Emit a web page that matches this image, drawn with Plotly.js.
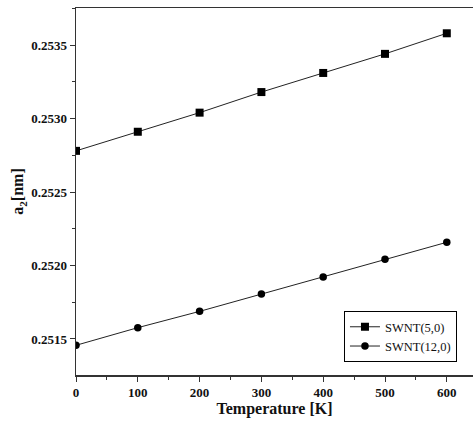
<!DOCTYPE html>
<html>
<head>
<meta charset="utf-8">
<script src="https://cdn.plot.ly/plotly-3.0.1.min.js"></script>
<style>html,body{margin:0;padding:0;background:#fff;}#chart{width:473px;height:421px;}</style>
</head>
<body>
<div id="chart"></div>
<script>
const temperature = [0, 100, 200, 300, 400, 500, 600];
const swnt50 = [0.25278, 0.25291, 0.25304, 0.25318, 0.25331, 0.25344, 0.25358];
const swnt120 = [0.251457, 0.251577, 0.251688, 0.251806, 0.251922, 0.252042, 0.252158];
const seriesNames = ["SWNT(5,0)", "SWNT(12,0)"];
const xTicks = [0, 100, 200, 300, 400, 500, 600];
const yTicks = [0.2515, 0.2520, 0.2525, 0.2530, 0.2535];

const FAM = '"Times New Roman", "Liberation Serif", "DejaVu Serif", serif';
const lineStyle = {color: '#222', width: 1};
const traces = [
  {x: temperature, y: swnt50, name: seriesNames[0], type: 'scatter', mode: 'lines+markers',
   line: lineStyle, marker: {symbol: 'square', size: 8, color: '#000'}},
  {x: temperature, y: swnt120, name: seriesNames[1], type: 'scatter', mode: 'lines+markers',
   line: lineStyle, marker: {symbol: 'circle', size: 7.5, color: '#000'}}
];

const tickFont = {family: FAM, size: 13, color: '#111', weight: 'bold'};
const layout = {
  width: 473, height: 421,
  margin: {l: 76, r: 0, t: 8, b: 46},
  paper_bgcolor: '#fff', plot_bgcolor: '#fff',
  font: {family: FAM},
  showlegend: true,
  legend: {x: 0.675, y: 0.174, xanchor: 'left', yanchor: 'top',
    bordercolor: '#000', borderwidth: 1, bgcolor: '#fff',
    font: {family: FAM, size: 12.5, color: '#111'},
    tracegroupgap: 0, itemwidth: 30},
  xaxis: {
    range: [0, 642.4], tickvals: xTicks, ticktext: xTicks.map(String),
    showgrid: false, zeroline: false, showline: true, linecolor: '#333', linewidth: 1.5,
    mirror: true, ticks: 'outside', ticklen: 5, tickwidth: 1, tickcolor: '#333',
    minor: {dtick: 50, tick0: 0, ticks: 'outside', ticklen: 3, tickcolor: '#333', showgrid: false},
    tickfont: tickFont,
    title: {text: 'Temperature [K]', standoff: 3,
      font: {family: FAM, size: 16, color: '#111', weight: 'bold'}}
  },
  yaxis: {
    range: [0.251255, 0.253752], tickvals: yTicks, ticktext: yTicks.map(v => v.toFixed(4)),
    showgrid: false, zeroline: false, showline: true, linecolor: '#333', linewidth: 1.5,
    mirror: false, ticks: 'outside', ticklen: 5, tickwidth: 1, tickcolor: '#333',
    minor: {dtick: 0.00025, tick0: 0.2515, ticks: 'outside', ticklen: 3, tickcolor: '#333', showgrid: false},
    tickfont: tickFont,
    title: {text: 'a<sub>2</sub>[nm]', standoff: 3,
      font: {family: FAM, size: 16, color: '#111', weight: 'bold'}}
  }
};
Plotly.newPlot('chart', traces, layout, {displayModeBar: false, staticPlot: true});
</script>
</body>
</html>
